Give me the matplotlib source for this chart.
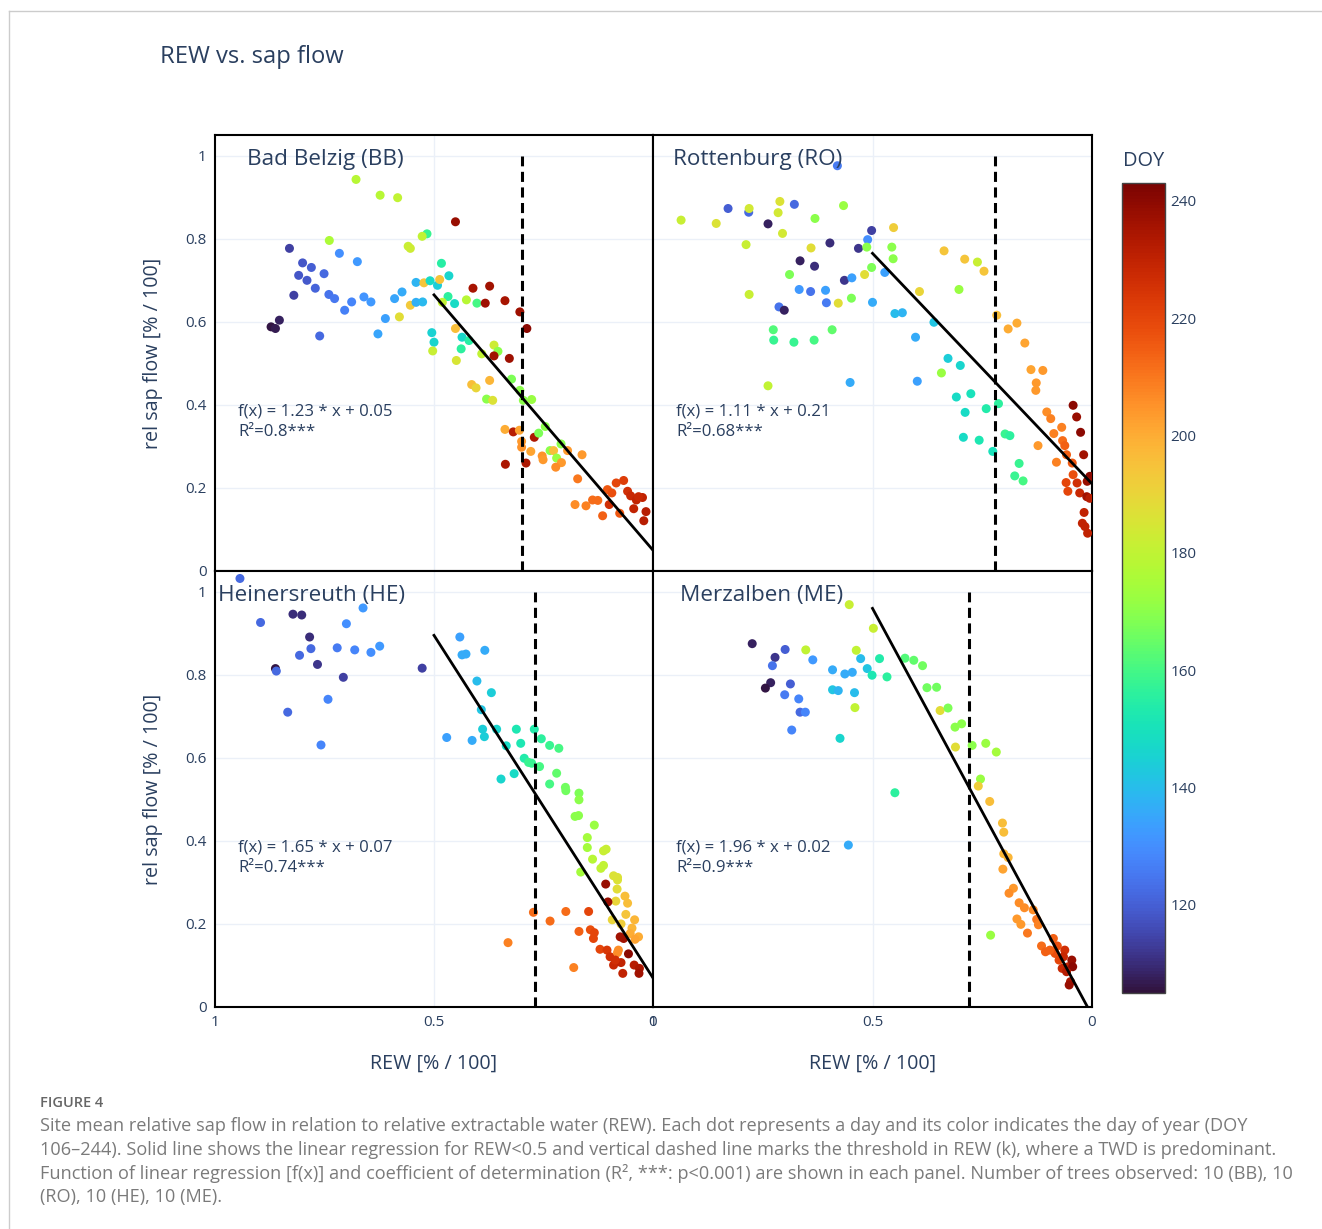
import matplotlib
matplotlib.use("Agg")
import matplotlib.pyplot as plt
from matplotlib.lines import Line2D
import numpy as np

plt.rcParams['font.family'] = ['Open Sans', 'DejaVu Sans']

# ---------------- data ----------------
sites = ["Bad Belzig (BB)", "Rottenburg (RO)", "Heinersreuth (HE)", "Merzalben (ME)"]

bb_rew = [0.678,0.623,0.583,0.451,0.516,0.527,0.739,0.830,0.559,0.554,
          0.716,0.675,0.800,0.780,0.751,0.809,0.790,0.771,0.820,0.740,
          0.727,0.688,0.704,0.660,0.644,0.590,0.573,0.611,0.628,0.761,
          0.853,0.872,0.862,0.579,0.554,0.541,0.526,0.541,0.523,0.509,
          0.492,0.487,0.466,0.483,0.468,0.453,0.481,0.426,0.402,0.411,
          0.373,0.383,0.338,0.304,0.288,0.451,0.436,0.420,0.438,0.505,
          0.500,0.503,0.449,0.363,0.354,0.391,0.363,0.328,0.323,0.304,
          0.277,0.296,0.414,0.404,0.373,0.380,0.366,0.338,0.319,0.305,
          0.300,0.300,0.271,0.261,0.246,0.279,0.253,0.251,0.235,0.227,
          0.220,0.209,0.222,0.210,0.195,0.162,0.337,0.290,0.172,0.178,
          0.153,0.138,0.126,0.115,0.104,0.094,0.100,0.084,0.067,0.076,
          0.058,0.051,0.038,0.024,0.033,0.044,0.016,0.021]
bb_sap = [0.943,0.905,0.899,0.841,0.812,0.806,0.796,0.777,0.782,0.777,
          0.765,0.745,0.742,0.731,0.716,0.712,0.700,0.681,0.664,0.666,
          0.656,0.648,0.628,0.660,0.648,0.656,0.672,0.608,0.571,0.566,
          0.604,0.588,0.584,0.612,0.640,0.647,0.648,0.695,0.694,0.699,
          0.688,0.702,0.711,0.741,0.661,0.644,0.647,0.653,0.645,0.681,
          0.686,0.645,0.651,0.624,0.584,0.584,0.563,0.555,0.535,0.574,
          0.551,0.530,0.507,0.544,0.529,0.523,0.518,0.512,0.462,0.435,
          0.413,0.411,0.449,0.441,0.459,0.414,0.411,0.341,0.335,0.339,
          0.312,0.298,0.322,0.332,0.348,0.288,0.277,0.268,0.290,0.290,
          0.272,0.261,0.250,0.306,0.290,0.280,0.257,0.260,0.222,0.160,
          0.157,0.171,0.170,0.133,0.196,0.188,0.160,0.212,0.218,0.139,
          0.192,0.181,0.171,0.177,0.179,0.150,0.143,0.121]
bb_doy = [178,178,180,238,158,180,176,114,182,183,
          130,132,118,120,122,118,119,121,114,124,
          125,128,127,131,132,135,136,134,135,122,
          108,106,107,188,193,137,139,138,194,148,
          144,195,146,155,156,148,180,178,160,235,
          236,237,235,237,240,196,147,155,156,145,
          146,182,185,183,170,180,236,237,168,170,
          172,170,196,190,198,170,186,200,232,202,
          204,205,234,168,170,202,205,204,170,196,
          172,204,206,170,204,204,234,234,210,206,
          208,212,212,214,216,218,226,220,222,216,
          226,228,230,230,228,230,232,232]

ro_rew = [0.936,0.856,0.829,0.782,0.781,0.738,0.715,0.711,0.678,0.705,
          0.788,0.631,0.566,0.580,0.502,0.511,0.532,0.513,0.452,0.456,
          0.453,0.502,0.518,0.472,0.597,0.640,0.665,0.632,0.689,0.564,
          0.547,0.667,0.641,0.607,0.605,0.578,0.548,0.500,0.781,0.713,
          0.701,0.449,0.432,0.393,0.337,0.290,0.261,0.246,0.303,0.360,
          0.402,0.726,0.725,0.679,0.633,0.592,0.738,0.551,0.398,0.328,
          0.300,0.343,0.309,0.276,0.289,0.241,0.293,0.257,0.226,0.213,
          0.217,0.191,0.171,0.153,0.139,0.112,0.127,0.128,0.198,0.187,
          0.166,0.176,0.157,0.103,0.094,0.069,0.087,0.123,0.067,0.062,
          0.058,0.081,0.043,0.035,0.026,0.019,0.045,0.043,0.059,0.034,
          0.055,0.028,0.005,0.011,0.012,0.005,0.018,0.022,0.016,0.010]
ro_sap = [0.845,0.837,0.873,0.864,0.873,0.836,0.863,0.890,0.883,0.813,
          0.786,0.849,0.880,0.976,0.820,0.798,0.777,0.780,0.827,0.780,
          0.752,0.731,0.714,0.719,0.790,0.778,0.747,0.734,0.714,0.700,
          0.706,0.678,0.673,0.676,0.646,0.645,0.657,0.647,0.666,0.636,
          0.628,0.620,0.622,0.673,0.771,0.751,0.744,0.722,0.678,0.599,
          0.563,0.581,0.556,0.551,0.556,0.581,0.446,0.454,0.457,0.512,
          0.495,0.477,0.419,0.427,0.382,0.391,0.322,0.315,0.288,0.403,
          0.616,0.583,0.597,0.549,0.485,0.483,0.453,0.435,0.330,0.326,
          0.259,0.229,0.217,0.383,0.367,0.346,0.331,0.302,0.314,0.302,
          0.280,0.262,0.399,0.371,0.334,0.280,0.260,0.232,0.213,0.212,
          0.192,0.188,0.228,0.216,0.179,0.175,0.141,0.115,0.107,0.091]
ro_doy = [182,186,120,122,184,108,184,186,122,184,
          182,170,172,126,114,130,112,170,192,170,
          170,168,188,134,110,188,108,110,168,112,
          134,132,124,134,126,188,168,136,182,124,
          108,140,138,190,194,194,182,194,172,142,
          136,162,158,158,160,164,180,136,134,144,
          146,172,148,150,148,154,148,152,150,156,
          196,200,200,202,202,204,204,204,158,156,
          158,158,160,206,208,208,208,204,212,214,
          214,208,240,238,240,236,216,218,220,226,
          220,228,240,238,236,232,230,230,230,230]

he_rew = [0.943,0.896,0.822,0.802,0.662,0.700,0.784,0.781,0.807,0.721,
          0.681,0.644,0.624,0.766,0.862,0.860,0.707,0.527,0.834,0.742,
          0.758,0.441,0.436,0.427,0.384,0.402,0.369,0.392,0.471,0.413,
          0.389,0.385,0.357,0.335,0.312,0.271,0.302,0.255,0.236,0.215,
          0.294,0.284,0.277,0.259,0.347,0.317,0.220,0.236,0.200,0.199,
          0.169,0.169,0.178,0.170,0.134,0.150,0.150,0.107,0.113,0.138,
          0.113,0.119,0.165,0.090,0.081,0.081,0.108,0.082,0.064,0.085,
          0.103,0.058,0.062,0.093,0.042,0.073,0.048,0.052,0.033,0.075,
          0.067,0.041,0.273,0.199,0.147,0.235,0.169,0.143,0.134,0.136,
          0.331,0.181,0.121,0.105,0.098,0.079,0.081,0.090,0.073,0.056,
          0.069,0.043,0.031,0.032,0.086]
he_sap = [1.032,0.926,0.946,0.944,0.961,0.923,0.891,0.863,0.847,0.865,
          0.860,0.854,0.869,0.825,0.815,0.809,0.794,0.816,0.710,0.741,
          0.631,0.891,0.848,0.850,0.859,0.785,0.757,0.716,0.649,0.642,
          0.669,0.651,0.669,0.629,0.669,0.669,0.635,0.646,0.630,0.623,
          0.599,0.589,0.587,0.579,0.549,0.562,0.563,0.537,0.529,0.521,
          0.515,0.499,0.459,0.461,0.438,0.408,0.384,0.380,0.376,0.356,
          0.341,0.334,0.325,0.316,0.312,0.306,0.296,0.284,0.267,0.255,
          0.253,0.250,0.223,0.210,0.210,0.200,0.190,0.177,0.169,0.169,
          0.165,0.163,0.228,0.230,0.230,0.207,0.182,0.186,0.179,0.165,
          0.155,0.095,0.139,0.137,0.121,0.137,0.131,0.101,0.107,0.128,
          0.081,0.101,0.093,0.081,0.113]
he_doy = [122,122,110,110,132,130,110,122,122,126,
          128,130,132,112,106,122,114,114,122,128,
          128,134,136,136,136,140,144,142,134,136,
          144,144,146,148,152,154,152,156,158,160,
          154,158,158,160,146,148,164,160,166,166,
          168,170,170,170,172,174,174,182,182,178,
          180,180,174,186,186,186,238,188,196,190,
          238,196,194,190,198,192,198,200,200,236,
          236,202,212,212,220,212,214,218,220,220,
          208,208,220,224,226,206,206,228,230,240,
          230,232,234,236,226]

me_rew = [0.553,0.498,0.774,0.699,0.722,0.728,0.652,0.636,0.537,0.527,
          0.484,0.591,0.563,0.546,0.512,0.501,0.467,0.426,0.406,0.386,
          0.376,0.354,0.732,0.744,0.687,0.700,0.668,0.665,0.653,0.684,
          0.591,0.578,0.541,0.540,0.574,0.449,0.555,0.346,0.328,0.312,
          0.297,0.311,0.273,0.242,0.218,0.254,0.259,0.233,0.204,0.201,
          0.201,0.191,0.203,0.179,0.189,0.166,0.154,0.134,0.171,0.162,
          0.126,0.122,0.147,0.231,0.115,0.106,0.088,0.084,0.075,0.062,
          0.065,0.068,0.054,0.046,0.044,0.058,0.049,0.052,0.079,0.096]
me_sap = [0.969,0.912,0.875,0.861,0.842,0.822,0.860,0.836,0.859,0.839,
          0.839,0.812,0.802,0.806,0.815,0.799,0.795,0.840,0.835,0.822,
          0.769,0.770,0.781,0.768,0.778,0.752,0.742,0.710,0.710,0.667,
          0.764,0.762,0.757,0.721,0.647,0.516,0.390,0.714,0.720,0.674,
          0.682,0.626,0.630,0.635,0.614,0.549,0.532,0.495,0.443,0.421,
          0.369,0.360,0.332,0.286,0.274,0.251,0.239,0.234,0.212,0.199,
          0.211,0.198,0.178,0.173,0.147,0.133,0.165,0.129,0.113,0.137,
          0.121,0.093,0.097,0.113,0.097,0.085,0.061,0.053,0.147,0.137]
me_doy = [182,182,108,120,112,124,180,132,180,140,
          154,136,136,136,142,152,156,162,164,166,
          166,166,108,106,120,126,128,122,128,128,
          142,138,140,180,146,156,136,188,168,170,
          170,188,170,172,174,172,192,196,196,196,
          198,198,202,204,206,206,206,206,204,204,
          210,208,210,172,212,214,214,218,220,226,
          228,228,230,238,240,232,234,238,218,214]

rew_data = [bb_rew, ro_rew, he_rew, me_rew]
sap_data = [bb_sap, ro_sap, he_sap, me_sap]
doy_data = [bb_doy, ro_doy, he_doy, me_doy]

reg_slope = [1.23, 1.11, 1.65, 1.96]
reg_intercept = [0.05, 0.21, 0.07, -0.02]
reg_labels = ["f(x) = 1.23 * x + 0.05", "f(x) = 1.11 * x + 0.21",
              "f(x) = 1.65 * x + 0.07", "f(x) = 1.96 * x + 0.02"]
r2_labels = ["R²=0.8***", "R²=0.68***", "R²=0.74***", "R²=0.9***"]
thresholds = [0.30, 0.22, 0.27, 0.28]
rew_break = 0.5
doy_min, doy_max = 105, 243
y_ticks = [0, 0.2, 0.4, 0.6, 0.8, 1]
x_ticks = [1, 0.5, 0]
cbar_ticks = [120, 140, 160, 180, 200, 220, 240]

caption_lines = [
    "Site mean relative sap flow in relation to relative extractable water (REW). Each dot represents a day and its color indicates the day of year (DOY",
    "106\u2013244). Solid line shows the linear regression for REW<0.5 and vertical dashed line marks the threshold in REW (k), where a TWD is predominant.",
    "Function of linear regression [f(x)] and coefficient of determination (R², ***: p<0.001) are shown in each panel. Number of trees observed: 10 (BB), 10",
    "(RO), 10 (HE), 10 (ME).",
]

# ---------------- figure ----------------
W, H = 1322, 1229
fig = plt.figure(figsize=(W / 100, H / 100), dpi=100)
TXT = '#2a3f5f'

def fx(px):
    return px / W

def fy(py):
    return 1 - py / H

# page frame lines
fig.add_artist(Line2D([fx(9), 1], [fy(11), fy(11)], color='#cccccc', lw=1.0))
fig.add_artist(Line2D([fx(9), fx(9)], [fy(11), 0], color='#cccccc', lw=1.0))

fig.text(fx(160), fy(57), "REW vs. sap flow", fontsize=17.1, color=TXT, va='center', ha='left')

panel_px = [(215, 135, 653, 571), (653, 135, 1092, 571),
            (215, 571, 653, 1007), (653, 571, 1092, 1007)]
title_pos = [0.073, 0.046, 0.007, 0.0615]

cmap = plt.get_cmap('turbo')
sc = None
for i, (l, t, r, b) in enumerate(panel_px):
    ax = fig.add_axes([fx(l), fy(b), (r - l) / W, (b - t) / H])
    ax.set_xlim(1, 0)
    ax.set_ylim(0, 1.05)
    for yv in [0.2, 0.4, 0.6, 0.8, 1.0]:
        ax.axhline(yv, color='#ebf0f8', lw=1.0, zorder=0)
    ax.axvline(0.5, color='#ebf0f8', lw=1.0, zorder=0)
    for s in ax.spines.values():
        s.set_color('black')
        s.set_linewidth(1.5)
    ax.set_yticks(y_ticks)
    ax.set_xticks(x_ticks)
    ax.tick_params(length=0, labelsize=11, labelcolor=TXT, pad=6)
    ax.set_yticklabels(['0', '0.2', '0.4', '0.6', '0.8', '1'])
    ax.set_xticklabels(['1', '0.5', '0'])
    if i in (1, 3):
        ax.tick_params(labelleft=False)
    else:
        ax.set_ylabel("rel sap flow [% / 100]", fontsize=14.2, color=TXT, labelpad=16)
    if i in (0, 1):
        ax.tick_params(labelbottom=False)
    else:
        ax.set_xlabel("REW [% / 100]", fontsize=14.2, color=TXT, labelpad=17)

    sc = ax.scatter(rew_data[i], sap_data[i], c=doy_data[i], cmap=cmap,
                    vmin=doy_min, vmax=doy_max, s=42, linewidths=0, zorder=3)
    # regression line for REW < 0.5
    xr = np.array([rew_break, 0.0])
    ax.plot(xr, reg_slope[i] * xr + reg_intercept[i], color='black', lw=2.0, zorder=4)
    # threshold
    ax.plot([thresholds[i], thresholds[i]], [0, 1], color='black', lw=2.2,
            dashes=(3.3, 1.8), zorder=4)

    ax.text(title_pos[i], 0.943, sites[i], transform=ax.transAxes, fontsize=16.2,
            color=TXT, ha='left', va='center', zorder=5)
    ax.text(0.053, 0.365, reg_labels[i], transform=ax.transAxes, fontsize=12.1,
            color=TXT, ha='left', va='center', zorder=5)
    ax.text(0.053, 0.319, r2_labels[i], transform=ax.transAxes, fontsize=12.1,
            color=TXT, ha='left', va='center', zorder=5)

# colorbar
cax = fig.add_axes([fx(1122), fy(993), 43 / W, 810 / H])
cb = fig.colorbar(sc, cax=cax, ticks=cbar_ticks)
cb.outline.set_edgecolor('#444444')
cb.outline.set_linewidth(1.0)
cax.tick_params(length=0, labelsize=11, labelcolor=TXT, pad=4)
fig.text(fx(1123), fy(161), "DOY", fontsize=14.4, color=TXT, ha='left', va='center')

# caption
fig.text(fx(40), fy(1103), "FIGURE 4", fontsize=10.5, color='#666666', ha='left',
         va='center', fontweight='semibold')
for k, line in enumerate(caption_lines):
    fig.text(fx(40), fy(1126 + 23.7 * k), line, fontsize=13.1, color='#7a7a7a',
             ha='left', va='center')

fig.savefig("out.png", dpi=100)
